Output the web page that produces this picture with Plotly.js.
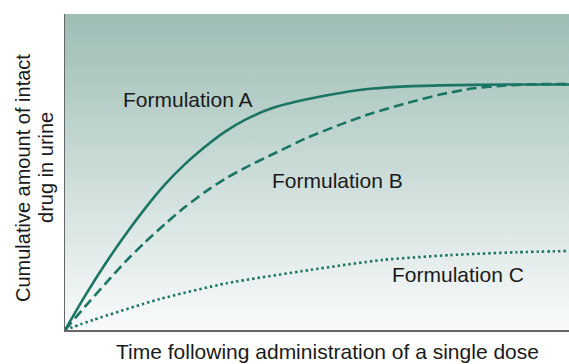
<!DOCTYPE html>
<html>
<head>
<meta charset="utf-8">
<script src="https://cdn.plot.ly/plotly-3.0.1.min.js"></script>
<style>
  html, body { margin: 0; padding: 0; background: #fff; }
  #plot { width: 569px; height: 364px; }
</style>
</head>
<body>
<div id="plot"></div>
<script>
// Time after dose (relative units, 0-100) and cumulative amount (relative units, 0-100)
const timeA = [0, 3.97, 7.94, 11.9, 15.9, 19.8, 23.8, 27.8, 31.7, 35.7, 41.3, 48.0, 54.6, 61.1, 67.8, 74.4, 87.6, 100];
const amountA = [0, 10.8, 20.8, 30.0, 38.5, 46.0, 52.5, 58.0, 62.7, 66.5, 70.3, 73.0, 75.0, 76.4, 77.1, 77.4, 77.7, 77.7];

const timeB = [0, 3.97, 7.94, 11.9, 15.9, 19.8, 23.8, 27.8, 31.7, 35.7, 41.3, 48.0, 54.6, 61.1, 67.8, 74.4, 80.8, 87.6, 94.2, 100];
const amountB = [0, 7.4, 14.5, 21.5, 27.8, 33.5, 38.9, 43.7, 47.8, 51.3, 55.7, 60.8, 65.0, 68.7, 71.8, 74.5, 76.4, 77.4, 77.8, 77.8];

const timeC = [0, 5.6, 18.8, 32.1, 48.6, 63.1, 76.4, 89.6, 100];
const amountC = [0, 3.2, 9.8, 14.8, 19.0, 22.2, 23.7, 24.6, 25.0];

const labels = ['Formulation A', 'Formulation B', 'Formulation C'];
const labelX = [24.5, 54.0, 77.9];
const labelY = [72.8, 47.3, 17.7];

const X_RANGE = [0, 100];
const Y_RANGE = [0, 100];

const LINE_COLOR = '#1b7565';
const TEXT_COLOR = '#1a1a1a';
const FONT = 'Liberation Sans, Arial, Helvetica, sans-serif';

// background panel with a vertical gradient
const traceBg = {
  x: [X_RANGE[0], X_RANGE[1], X_RANGE[1], X_RANGE[0], X_RANGE[0]],
  y: [Y_RANGE[0], Y_RANGE[0], Y_RANGE[1], Y_RANGE[1], Y_RANGE[0]],
  type: 'scatter', mode: 'lines', line: { width: 0 },
  fill: 'toself',
  fillgradient: { type: 'vertical', colorscale: [[0, '#f9fbfb'], [1, '#9dbdb5']] },
  hoverinfo: 'skip', showlegend: false
};

const lineBase = { color: LINE_COLOR, width: 2.6, shape: 'spline', smoothing: 0.6 };
const traceA = { x: timeA, y: amountA, type: 'scatter', mode: 'lines',
  line: Object.assign({}, lineBase), name: labels[0] };
const traceB = { x: timeB, y: amountB, type: 'scatter', mode: 'lines',
  line: Object.assign({ dash: '10px,5px' }, lineBase), name: labels[1] };
const traceC = { x: timeC, y: amountC, type: 'scatter', mode: 'lines',
  line: Object.assign({ dash: '2.4px,3px' }, lineBase), name: labels[2] };

const annotations = labels.map((t, i) => ({
  x: labelX[i], y: labelY[i], xref: 'x', yref: 'y', text: t, showarrow: false,
  xanchor: 'center', yanchor: 'middle', font: { family: FONT, size: 21, color: TEXT_COLOR }
}));

// axis titles
annotations.push({
  x: 0.52, y: -0.1076, xref: 'paper', yref: 'paper', yanchor: 'bottom', borderpad: 0,
  showarrow: false, text: 'Time following administration of a single dose',
  font: { family: FONT, size: 21, color: TEXT_COLOR }
});
annotations.push({
  x: -0.0833, y: 0.481, xref: 'paper', yref: 'paper', xanchor: 'center', yanchor: 'middle',
  showarrow: false, textangle: -90, text: 'Cumulative amount of intact',
  font: { family: FONT, size: 20, color: TEXT_COLOR }
});
annotations.push({
  x: -0.0377, y: 0.516, xref: 'paper', yref: 'paper', xanchor: 'center', yanchor: 'middle',
  showarrow: false, textangle: -90, text: 'drug in urine',
  font: { family: FONT, size: 20, color: TEXT_COLOR }
});

const axisStyle = {
  showgrid: false, zeroline: false, showticklabels: false, ticks: '',
  showline: true, linecolor: '#666', linewidth: 1.5, fixedrange: true
};

const layout = {
  width: 569, height: 364,
  margin: { l: 65, r: 0, t: 14, b: 34 },
  paper_bgcolor: '#ffffff', plot_bgcolor: '#ffffff',
  showlegend: false,
  xaxis: Object.assign({ range: X_RANGE }, axisStyle),
  yaxis: Object.assign({ range: Y_RANGE }, axisStyle),
  annotations: annotations
};

Plotly.newPlot('plot', [traceBg, traceC, traceB, traceA], layout, { staticPlot: true });
</script>
</body>
</html>
